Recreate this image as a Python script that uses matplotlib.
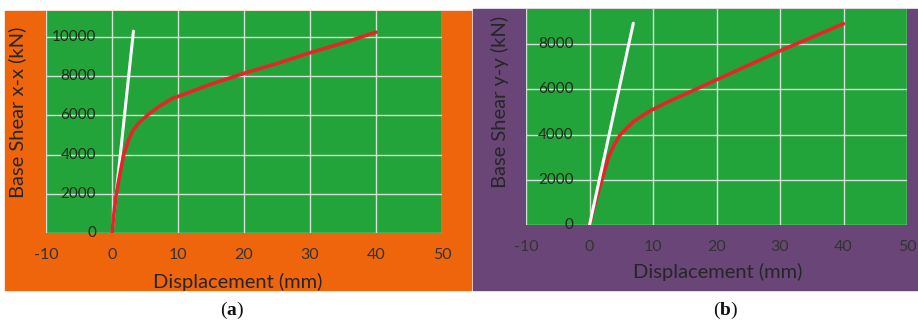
import matplotlib
matplotlib.use("Agg")
import matplotlib.pyplot as plt
from matplotlib.patches import Rectangle

plt.rcParams["font.family"] = ["Lato", "DejaVu Sans"]
plt.rcParams["mathtext.fontset"] = "custom"
plt.rcParams["mathtext.rm"] = "Liberation Serif"
plt.rcParams["mathtext.bf"] = "Liberation Serif:bold"

# Pushover curves, direction x-x
disp_x = [0, 0.3, 0.65, 1.2, 1.77, 2.5, 3.2, 4.0, 5.3, 7.0, 9.1, 11.8, 15, 20,
          25, 30, 35, 40]
shear_x = [0, 1000, 2000, 3000, 4000, 4740, 5250, 5590, 6000, 6430, 6860, 7190,
           7600, 8150, 8650, 9200, 9700, 10250]
elastic_disp_x = [0, 3.25]
elastic_shear_x = [0, 10300]

# Pushover curves, direction y-y
disp_y = [0, 0.9, 1.95, 3.0, 3.8, 4.85, 6.95, 9.3, 12.3, 15, 20, 25, 30, 35, 40]
shear_y = [0, 1000, 2000, 3000, 3500, 4000, 4580, 5010, 5440, 5780, 6420,
           7060, 7700, 8300, 8900]
elastic_disp_y = [0, 6.9]
elastic_shear_y = [0, 8920]

x_ticks = [-10, 0, 10, 20, 30, 40, 50]
x_tick_labels = ["-10", "0", "10", "20", "30", "40", "50"]
y_ticks_x = [0, 2000, 4000, 6000, 8000, 10000]
y_ticks_y = [0, 2000, 4000, 6000, 8000]

GREEN = "#22a43a"
ORANGE = "#ee650c"
PURPLE = "#6a4577"
RED = "#e8232a"
GRID = "#d6e0d6"
TEXT = "#262626"

W, H = 918, 325
fig = plt.figure(figsize=(W / 100, H / 100), dpi=100)


def fx(px):
    return px / W


def fy(py):
    return 1 - py / H


# panel backgrounds
fig.add_artist(Rectangle((fx(5), fy(290)), fx(471) - fx(5), fy(11) - fy(290),
                         transform=fig.transFigure, color=ORANGE, zorder=-5))
fig.add_artist(Rectangle((fx(473), fy(290)), fx(918) - fx(473), fy(9) - fy(290),
                         transform=fig.transFigure, color=PURPLE, zorder=-5))


def panel(rect, disp, shear, edisp, eshear, yticks, ymax, ylabel, red_on_top,
          xlab_pos, ylab_pos):
    ax = fig.add_axes(rect)
    ax.set_zorder(1)
    ax.set_facecolor(GREEN)
    ax.set_xlim(-10, 50)
    ax.set_ylim(0, ymax)
    ax.set_xticks(x_ticks)
    ax.set_xticklabels(x_tick_labels)
    ax.set_yticks(yticks)
    ax.grid(True, color=GRID, linewidth=1.0)
    ax.set_axisbelow(True)
    for s in ax.spines.values():
        s.set_visible(False)
    ax.tick_params(axis="x", length=0, pad=11, labelsize=11.5, labelcolor="#333333")
    ax.tick_params(axis="y", length=0, labelleft=False)
    for v in yticks:
        ax.annotate(f"{v}", xy=(0, v), xytext=(-11.5, 0), textcoords="offset points",
                    ha="right", va="center", fontsize=11, color="#1e2a1e",
                    annotation_clip=False)
    zr, zw = (4, 3) if red_on_top else (3, 4)
    ax.plot(edisp, eshear, color="white", linewidth=2.2, zorder=zw,
            solid_capstyle="round")
    ax.plot(disp, shear, color=RED, linewidth=2.6, zorder=zr,
            solid_capstyle="round", solid_joinstyle="round")
    fig.text(fx(xlab_pos[0]), fy(xlab_pos[1]), "Displacement (mm)", ha="center",
             va="center", fontsize=14.5, color=TEXT, zorder=2)
    fig.text(fx(ylab_pos[0]), fy(ylab_pos[1]), ylabel, ha="center", va="center",
             rotation=90, fontsize=14.5, color=TEXT, zorder=2)
    return ax


panel([fx(46), fy(233), fx(442) - fx(46), fy(11) - fy(233)],
      disp_x, shear_x, elastic_disp_x, elastic_shear_x, y_ticks_x, 11330,
      "Base Shear x-x (kN)", True, (238, 282), (17, 112))
panel([fx(526), fy(225), fx(907) - fx(526), fy(9) - fy(225)],
      disp_y, shear_y, elastic_disp_y, elastic_shear_y, y_ticks_y, 9550,
      "Base Shear y-y (kN)", False, (718, 272), (500, 102))

fig.text(fx(232), fy(310), r"$\mathrm{(}\mathbf{a}\mathrm{)}$", ha="center",
         va="center", fontsize=14, color="#111111")
fig.text(fx(726), fy(310), r"$\mathrm{(}\mathbf{b}\mathrm{)}$", ha="center",
         va="center", fontsize=14, color="#111111")

fig.savefig("out.png", dpi=100, facecolor="white")
